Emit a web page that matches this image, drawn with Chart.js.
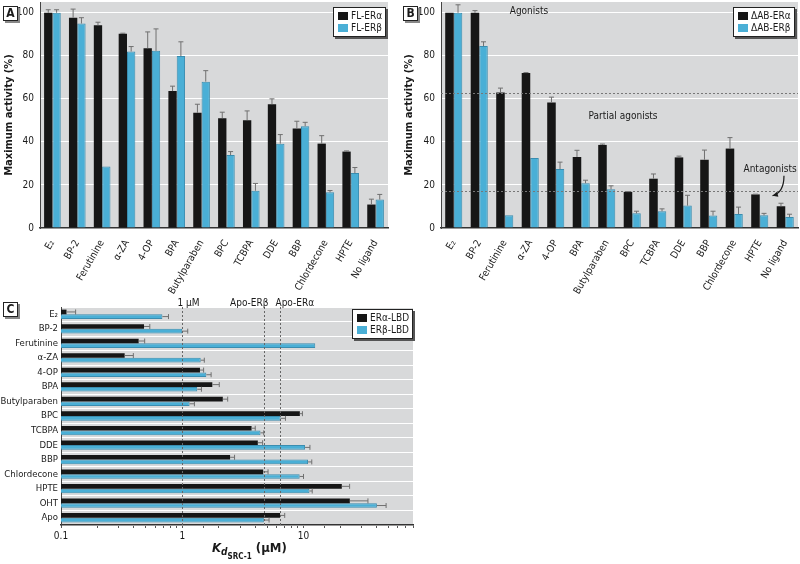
<!DOCTYPE html>
<html>
<head>
<meta charset="utf-8">
<script src="https://cdn.jsdelivr.net/npm/chart.js@4.4.0/dist/chart.umd.min.js"></script>
<style>
body { margin:0; background:#fff; width:800px; height:564px; position:relative; overflow:hidden;
       font-family:"Liberation Sans Narrow","DejaVu Sans Condensed","Liberation Sans",sans-serif; color:#1a1a1a; }
canvas { position:absolute; }
#chartA { left:0; top:0; }
#chartB { left:400px; top:0; }
#chartC { left:0; top:290px; }
.tag { position:absolute; width:13px; height:13px; border:1px solid #222; background:#fff; box-shadow:2px 2px 0 #888;
       font-weight:bold; font-size:12px; text-align:center; line-height:13px; }
.legend { position:absolute; background:#fff; border:1px solid #222; box-shadow:2px 2px 0 #555; font-size:10px; padding:2px 3px 2px 4px; }
.legend div { height:12px; line-height:12px; white-space:nowrap; }
.legend span { display:inline-block; width:10px; height:8px; margin-right:3px; vertical-align:-1px; }
#titleC { position:absolute; left:212px; top:540px; font-size:13px; font-weight:bold; white-space:nowrap; }
#titleC sub { font-size:10px; vertical-align:-3px; }
#titleC sub sub { font-size:8px; vertical-align:-4px; }
</style>
</head>
<body>
<canvas id="chartA" width="400" height="295"></canvas>
<canvas id="chartB" width="400" height="295"></canvas>
<canvas id="chartC" width="420" height="274"></canvas>

<div class="tag" style="left:3px;top:6px;">A</div>
<div class="tag" style="left:403px;top:6px;">B</div>
<div class="tag" style="left:3px;top:302px;">C</div>

<div class="legend" style="left:333px;top:7px;">
  <div><span style="background:#161616"></span>FL-ERα</div>
  <div><span style="background:#4aafd6"></span>FL-ERβ</div>
</div>
<div class="legend" style="left:733px;top:7px;">
  <div><span style="background:#161616"></span>ΔAB-ERα</div>
  <div><span style="background:#4aafd6"></span>ΔAB-ERβ</div>
</div>
<div class="legend" style="left:352px;top:309px;">
  <div><span style="background:#161616"></span>ERα-LBD</div>
  <div><span style="background:#4aafd6"></span>ERβ-LBD</div>
</div>
<div id="titleC"><i>K</i><sub><i>d</i><sub>SRC-1</sub></sub> (μM)</div>

<script>
// Compounds for panels A and B
const compounds = ['E₂', 'BP-2', 'Ferutinine', 'α-ZA', '4-OP', 'BPA', 'Butylparaben', 'BPC', 'TCBPA', 'DDE', 'BBP', 'Chlordecone', 'HPTE', 'No ligand'];
const activityTicks = [0, 20, 40, 60, 80, 100];

// Panel A: full-length receptors, maximum activity (%) and upper error
const flAlpha    = [100, 97.7, 94.2, 90.2, 83.5, 63.6, 53.5, 51.0, 50.1, 57.5, 46.2, 39.2, 35.5, 10.9];
const flAlphaErr = [1.4, 4.0, 1.4, 0.3, 7.6, 2.3, 4.0, 2.8, 4.3, 2.5, 3.4, 3.7, 0.3, 2.5];
const flBeta     = [100, 95.0, 28.6, 82.0, 82.3, 79.9, 68.0, 33.9, 17.3, 39.2, 47.3, 16.6, 25.5, 13.2];
const flBetaErr  = [1.4, 2.7, 0, 2.3, 10.2, 6.6, 5.1, 1.6, 3.4, 4.2, 1.8, 0.8, 2.6, 2.4];

// Panel B: AB-deleted receptors
const abAlpha    = [100, 100, 63.0, 72.0, 58.3, 33.0, 38.6, 16.8, 22.9, 32.8, 31.7, 36.9, 15.6, 10.1];
const abAlphaErr = [0, 1.0, 2.0, 0.2, 2.5, 3.1, 0.4, 0.1, 2.2, 0.6, 4.5, 5.1, 0.1, 1.4];
const abBeta     = [100, 84.5, 5.9, 32.5, 27.4, 20.8, 18.0, 6.8, 7.8, 10.4, 5.8, 6.5, 5.9, 5.1];
const abBetaErr  = [3.7, 2.0, 0, 0, 3.2, 1.4, 1.6, 1.0, 1.1, 4.8, 2.0, 3.2, 0.9, 1.3];
const bThresholds = [62.7, 17.2];

// Panel C: Kd SRC-1 (uM), bar value and upper end of error bar
const lbdLigands = ['E₂', 'BP-2', 'Ferutinine', 'α-ZA', '4-OP', 'BPA', 'Butylparaben', 'BPC', 'TCBPA', 'DDE', 'BBP', 'Chlordecone', 'HPTE', 'OHT', 'Apo'];
const lbdAlpha   = [0.111, 0.484, 0.437, 0.335, 1.40, 1.77, 2.16, 9.33, 3.73, 4.2, 2.48, 4.65, 20.7, 24.1, 6.41];
const lbdAlphaHi = [0.132, 0.54, 0.49, 0.395, 1.50, 2.02, 2.37, 9.8, 4.0, 4.6, 2.7, 5.1, 24, 34, 7.0];
const lbdBeta    = [0.686, 1.0, 12.5, 1.42, 1.58, 1.33, 1.15, 6.47, 4.42, 10.3, 10.9, 9.3, 11.2, 40.3, 4.71];
const lbdBetaHi  = [0.77, 1.11, null, 1.52, 1.73, 1.44, 1.26, 7.1, 4.7, 11.3, 11.7, 10.0, 11.8, 48, 5.2];
const cRefValues = [1, 4.73, 6.34];
const cRefLabels = ['1 μM', 'Apo-ERβ', 'Apo-ERα'];

const FONT = '"Liberation Sans Narrow", "DejaVu Sans Condensed", "Liberation Sans", sans-serif';
const BLACK = '#161616';
const BLUE = '#4aafd6';
const PLOT_BG = '#d8d9da';
Chart.defaults.font.family = FONT;
Chart.defaults.color = '#1a1a1a';
Chart.defaults.animation = false;

// gray plot background
const plotBg = {
    id: 'plotBg',
    beforeDraw(chart) {
        const { ctx, chartArea: a } = chart;
        ctx.save();
        ctx.fillStyle = PLOT_BG;
        ctx.fillRect(a.left, a.top, a.right - a.left, a.bottom - a.top);
        ctx.restore();
    }
};

// one-sided error bars
const errorBars = {
    id: 'errorBars',
    afterDatasetsDraw(chart) {
        const ctx = chart.ctx;
        const horizontal = chart.options.indexAxis === 'y';
        const vScale = horizontal ? chart.scales.x : chart.scales.y;
        chart.data.datasets.forEach((ds, di) => {
            if (!ds.errHi) return;
            const meta = chart.getDatasetMeta(di);
            ctx.save();
            ctx.strokeStyle = '#707070';
            ctx.lineWidth = 1;
            meta.data.forEach((bar, i) => {
                const hi = ds.errHi[i];
                if (hi == null || hi <= ds.data[i]) return;
                const p = vScale.getPixelForValue(hi);
                ctx.beginPath();
                if (horizontal) {
                    ctx.moveTo(bar.x, bar.y); ctx.lineTo(p, bar.y);
                    ctx.moveTo(p, bar.y - 2.5); ctx.lineTo(p, bar.y + 2.5);
                } else {
                    ctx.moveTo(bar.x, bar.y); ctx.lineTo(bar.x, p);
                    ctx.moveTo(bar.x - 2.5, p); ctx.lineTo(bar.x + 2.5, p);
                }
                ctx.stroke();
            });
            ctx.restore();
        });
    }
};

function activityChart(id, alpha, alphaErr, beta, betaErr, yWidth, padRight, extraPlugins) {
    return new Chart(document.getElementById(id), {
        type: 'bar',
        data: {
            labels: compounds,
            datasets: [
                { data: alpha, errHi: alpha.map((v, i) => v + alphaErr[i]), backgroundColor: BLACK },
                { data: beta, errHi: beta.map((v, i) => v + betaErr[i]), backgroundColor: BLUE, borderColor: '#3a8db0', borderWidth: 1 }
            ]
        },
        options: {
            responsive: false,
            categoryPercentage: 0.67,
            barPercentage: 1.0,
            layout: { padding: { top: 2, right: padRight, left: 0, bottom: 0 } },
            plugins: { legend: { display: false }, tooltip: { enabled: false } },
            scales: {
                x: {
                    grid: { display: false },
                    border: { color: '#333', width: 1.5 },
                    ticks: { font: { size: 10 }, minRotation: 60, maxRotation: 60, autoSkip: false, padding: 2 },
                    afterFit: (s) => { s.height = 67; s.paddingLeft = 0; s.paddingRight = 0; }
                },
                y: {
                    min: 0,
                    max: 105,
                    grid: { color: '#ffffff', lineWidth: 1, drawTicks: false },
                    border: { color: '#444', width: 1 },
                    ticks: { font: { size: 10 }, padding: 6 },
                    afterBuildTicks: (s) => { s.ticks = activityTicks.map(v => ({ value: v })); },
                    title: { display: true, text: 'Maximum activity (%)', font: { size: 11, weight: 'bold' }, padding: { top: 3, bottom: 2 } },
                    afterFit: (s) => { s.width = yWidth; s.paddingTop = 0; s.paddingBottom = 0; }
                }
            }
        },
        plugins: [plotBg, errorBars].concat(extraPlugins || [])
    });
}

// threshold lines and labels for panel B
const bNotes = {
    id: 'bNotes',
    afterDatasetsDraw(chart) {
        const { ctx, chartArea: a, scales: { x, y } } = chart;
        ctx.save();
        ctx.strokeStyle = '#777';
        ctx.lineWidth = 1;
        ctx.setLineDash([2, 2]);
        bThresholds.forEach(v => {
            const py = Math.round(y.getPixelForValue(v)) + 0.5;
            ctx.beginPath(); ctx.moveTo(a.left, py); ctx.lineTo(a.right, py); ctx.stroke();
        });
        ctx.setLineDash([]);
        ctx.fillStyle = '#1a1a1a';
        ctx.font = '10px ' + FONT;
        ctx.textBaseline = 'middle';
        ctx.textAlign = 'center';
        ctx.fillText('Agonists', x.getPixelForValue(2.95), y.getPixelForValue(100.6));
        ctx.fillText('Partial agonists', x.getPixelForValue(6.64), y.getPixelForValue(51.8));
        ctx.textAlign = 'right';
        ctx.fillText('Antagonists', x.getPixelForValue(13.45), y.getPixelForValue(27));
        // curved arrow to "No ligand"
        const sx = x.getPixelForValue(12.95), sy = y.getPixelForValue(24.3);
        const cx = x.getPixelForValue(12.95), cy = y.getPixelForValue(16.5);
        const ex = x.getPixelForValue(12.5), ey = y.getPixelForValue(15.0);
        ctx.strokeStyle = '#1a1a1a';
        ctx.lineWidth = 1.2;
        ctx.beginPath(); ctx.moveTo(sx, sy); ctx.quadraticCurveTo(cx, cy, ex, ey); ctx.stroke();
        const ang = Math.atan2(ey - cy, ex - cx);
        ctx.beginPath();
        ctx.moveTo(ex, ey);
        ctx.lineTo(ex - 6 * Math.cos(ang - 0.45), ey - 6 * Math.sin(ang - 0.45));
        ctx.lineTo(ex - 6 * Math.cos(ang + 0.45), ey - 6 * Math.sin(ang + 0.45));
        ctx.closePath();
        ctx.fillStyle = '#1a1a1a';
        ctx.fill();
        ctx.restore();
    }
};

activityChart('chartA', flAlpha, flAlphaErr, flBeta, flBetaErr, 40, 12);
activityChart('chartB', abAlpha, abAlphaErr, abBeta, abBetaErr, 41, 2, [bNotes]);

// reference lines for panel C
const cNotes = {
    id: 'cNotes',
    afterDatasetsDraw(chart) {
        const { ctx, chartArea: a, scales: { x } } = chart;
        ctx.save();
        ctx.strokeStyle = '#666';
        ctx.lineWidth = 1;
        ctx.setLineDash([2, 2]);
        ctx.fillStyle = '#1a1a1a';
        ctx.font = '10px ' + FONT;
        ctx.textBaseline = 'bottom';
        cRefValues.forEach((v, i) => {
            const px = Math.round(x.getPixelForValue(v)) + 0.5;
            ctx.beginPath(); ctx.moveTo(px, a.top); ctx.lineTo(px, a.bottom); ctx.stroke();
            if (cRefLabels[i].indexOf('ERβ') >= 0) {
                ctx.textAlign = 'right';
                ctx.fillText(cRefLabels[i], px + 4, a.top + 1);
            } else {
                ctx.textAlign = 'left';
                ctx.fillText(cRefLabels[i], px - 5, a.top + 1);
            }
        });
        ctx.restore();
    }
};

new Chart(document.getElementById('chartC'), {
    type: 'bar',
    data: {
        labels: lbdLigands,
        datasets: [
            { data: lbdAlpha, errHi: lbdAlphaHi, backgroundColor: BLACK },
            { data: lbdBeta, errHi: lbdBetaHi, backgroundColor: BLUE, borderColor: '#3a8db0', borderWidth: 1 }
        ]
    },
    options: {
        responsive: false,
        indexAxis: 'y',
        categoryPercentage: 0.64,
        barPercentage: 1.0,
        layout: { padding: { top: 17, right: 7, left: 0, bottom: 0 } },
        plugins: { legend: { display: false }, tooltip: { enabled: false } },
        scales: {
            x: {
                type: 'logarithmic',
                min: 0.1,
                max: 80,
                grid: { drawOnChartArea: false, drawTicks: true, tickLength: 3, color: '#555' },
                border: { color: '#333', width: 1.5 },
                ticks: {
                    font: { size: 10 }, autoSkip: false, maxRotation: 0, padding: 2,
                    callback: (v) => {
                        const lg = Math.log10(v);
                        return Math.abs(lg - Math.round(lg)) < 1e-6 ? String(Math.round(v * 10) / 10) : '';
                    }
                },
                afterFit: (s) => { s.height = 39; s.paddingLeft = 0; s.paddingRight = 0; }
            },
            y: {
                grid: { color: '#ffffff', lineWidth: 1, drawTicks: false },
                border: { color: '#444', width: 1 },
                ticks: { font: { size: 9.5 }, padding: 3, autoSkip: false },
                afterFit: (s) => { s.width = 61; s.paddingTop = 0; s.paddingBottom = 0; }
            }
        }
    },
    plugins: [plotBg, errorBars, cNotes]
});
</script>
</body>
</html>
